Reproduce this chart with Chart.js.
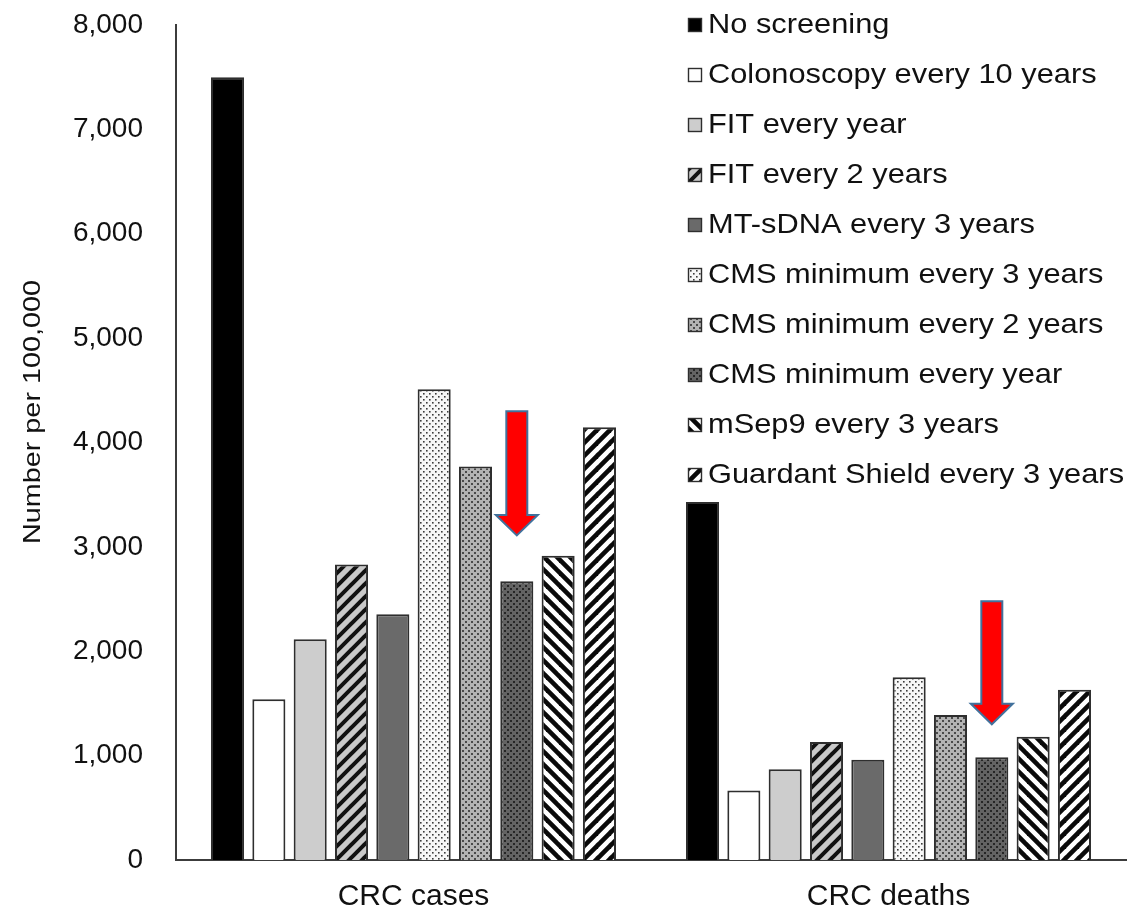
<!DOCTYPE html>
<html>
<head>
<meta charset="utf-8">
<script src="https://cdn.jsdelivr.net/npm/chart.js@4.4.1/dist/chart.umd.min.js"></script>
<style>
  html, body { margin: 0; padding: 0; background: #ffffff; }
  #wrap { width: 1132px; height: 912px; }
</style>
</head>
<body>
<div id="wrap"><canvas id="chart" width="1132" height="912"></canvas></div>
<script>
// ---- data ----
const categories = ['CRC cases', 'CRC deaths'];
const strategies = [
  'No screening',
  'Colonoscopy every 10 years',
  'FIT every year',
  'FIT every 2 years',
  'MT-sDNA every 3 years',
  'CMS minimum every 3 years',
  'CMS minimum every 2 years',
  'CMS minimum every year',
  'mSep9 every 3 years',
  'Guardant Shield every 3 years'
];
const crcCases  = [7500, 1540, 2115, 2830, 2355, 4510, 3770, 2670, 2915, 4145];
const crcDeaths = [3430,  665,  870, 1130,  960, 1750, 1390,  985, 1180, 1630];
const yTickValues = [0, 1000, 2000, 3000, 4000, 5000, 6000, 7000, 8000];

// red call-out arrows over the "CMS minimum every year" bars (value units)
const arrowStrategy = 7;
const arrowTopValues = [4300, 2480];
const arrowTipValues = [3110, 1300];

// ---- fills ----
const FONT = '"Liberation Sans", Arial, Helvetica, sans-serif';
Chart.defaults.font.family = FONT;

function tile(size, draw) {
  const c = document.createElement('canvas');
  c.width = size; c.height = size;
  const g = c.getContext('2d');
  draw(g, size);
  return g.createPattern(c, 'repeat');
}
function stripes(bg, fg, size, width, forward) {
  return tile(size, (g, s) => {
    g.fillStyle = bg; g.fillRect(0, 0, s, s);
    g.strokeStyle = fg; g.lineWidth = width; g.lineCap = 'square';
    for (const o of [-s, 0, s]) {
      g.beginPath();
      if (forward) { g.moveTo(o, s); g.lineTo(o + s, 0); }
      else { g.moveTo(o, 0); g.lineTo(o + s, s); }
      g.stroke();
    }
  });
}
function dots(bg, fg, size, dot) {
  return tile(size, (g, s) => {
    g.fillStyle = bg; g.fillRect(0, 0, s, s);
    g.fillStyle = fg;
    g.fillRect(0, 0, dot, dot);
    g.fillRect(s / 2, s / 2, dot, dot);
  });
}

const fills = [
  '#000000',
  '#ffffff',
  '#cdcdcd',
  stripes('#c9c9c9', '#111111', 13, 4, true),
  '#6a6a6a',
  dots('#f7f7f7', '#3c3c3c', 6, 1.6),
  dots('#b3b3b3', '#4a4a4a', 6, 2),
  dots('#636363', '#262626', 6, 2),
  stripes('#ffffff', '#0a0a0a', 13, 4.6, false),
  stripes('#ffffff', '#0a0a0a', 13, 4.6, true)
];

// ---- plugins ----
const sideLegend = {
  id: 'sideLegend',
  afterDraw(chart) {
    const ctx = chart.ctx;
    const x0 = chart.chartArea.right - 438;
    const y0 = chart.chartArea.top;
    ctx.save();
    ctx.font = '28px ' + FONT;
    ctx.textBaseline = 'middle';
    chart.data.datasets.forEach((ds, i) => {
      const y = y0 + i * 50;
      ctx.fillStyle = ds.backgroundColor;
      ctx.fillRect(x0, y - 7, 14, 14);
      ctx.strokeStyle = '#2e2e2e';
      ctx.lineWidth = 1.4;
      ctx.strokeRect(x0 + 0.5, y - 6.5, 13, 13);
      ctx.fillStyle = '#111111';
      ctx.save();
      ctx.translate(x0 + 20, y);
      ctx.scale(1.1, 1);
      ctx.fillText(ds.label, 0, 0);
      ctx.restore();
    });
    ctx.restore();
  }
};

const yTitle = {
  id: 'yTitle',
  afterDraw(chart) {
    const ctx = chart.ctx;
    const text = 'Number per 100,000';
    ctx.save();
    ctx.font = '24px ' + FONT;
    const w = ctx.measureText(text).width;
    ctx.translate(33, 412);
    ctx.rotate(-Math.PI / 2);
    ctx.scale(264 / w, 1);
    ctx.fillStyle = '#111111';
    ctx.textAlign = 'center';
    ctx.textBaseline = 'middle';
    ctx.fillText(text, 0, 0);
    ctx.restore();
  }
};

const arrows = {
  id: 'arrows',
  afterDatasetsDraw(chart) {
    const ctx = chart.ctx;
    const meta = chart.getDatasetMeta(arrowStrategy);
    const ys = chart.scales.y;
    ctx.save();
    categories.forEach((c, k) => {
      const x = meta.data[k].x;
      const top = ys.getPixelForValue(arrowTopValues[k]);
      const tip = ys.getPixelForValue(arrowTipValues[k]);
      const shaft = 10.5, head = 21, headH = 20.5;
      ctx.beginPath();
      ctx.moveTo(x - shaft, top);
      ctx.lineTo(x + shaft, top);
      ctx.lineTo(x + shaft, tip - headH);
      ctx.lineTo(x + head, tip - headH);
      ctx.lineTo(x, tip);
      ctx.lineTo(x - head, tip - headH);
      ctx.lineTo(x - shaft, tip - headH);
      ctx.closePath();
      ctx.fillStyle = '#ff0000';
      ctx.fill();
      ctx.strokeStyle = '#41719c';
      ctx.lineWidth = 2;
      ctx.lineJoin = 'miter';
      ctx.stroke();
    });
    ctx.restore();
  }
};

// ---- chart ----
new Chart(document.getElementById('chart').getContext('2d'), {
  type: 'bar',
  data: {
    labels: categories,
    datasets: strategies.map((name, i) => ({
      label: name,
      data: [crcCases[i], crcDeaths[i]],
      backgroundColor: fills[i],
      borderColor: '#2e2e2e',
      borderWidth: 2,
      categoryPercentage: 0.87,
      barPercentage: 0.8
    }))
  },
  options: {
    responsive: false,
    devicePixelRatio: 1,
    animation: false,
    layout: { padding: { top: 25, right: 6, left: 0, bottom: 0 } },
    plugins: { legend: { display: false }, tooltip: { enabled: false } },
    scales: {
      x: {
        grid: { display: false, drawTicks: false },
        border: { color: '#3c3c3c', width: 2 },
        ticks: { color: '#111111', font: { size: 30 }, padding: 19 },
        afterFit(s) { s.height = 52; }
      },
      y: {
        min: 0,
        max: 8000,
        afterBuildTicks(s) { s.ticks = yTickValues.map(v => ({ value: v })); },
        grid: { display: false, drawTicks: false },
        border: { color: '#3c3c3c', width: 2 },
        ticks: {
          color: '#111111',
          font: { size: 28 },
          padding: 33,
          callback: v => Number(v).toLocaleString('en-US')
        },
        afterFit(s) { s.width = 176; s.paddingTop = 0; s.paddingBottom = 0; }
      }
    }
  },
  plugins: [arrows, sideLegend, yTitle]
});
</script>
</body>
</html>
